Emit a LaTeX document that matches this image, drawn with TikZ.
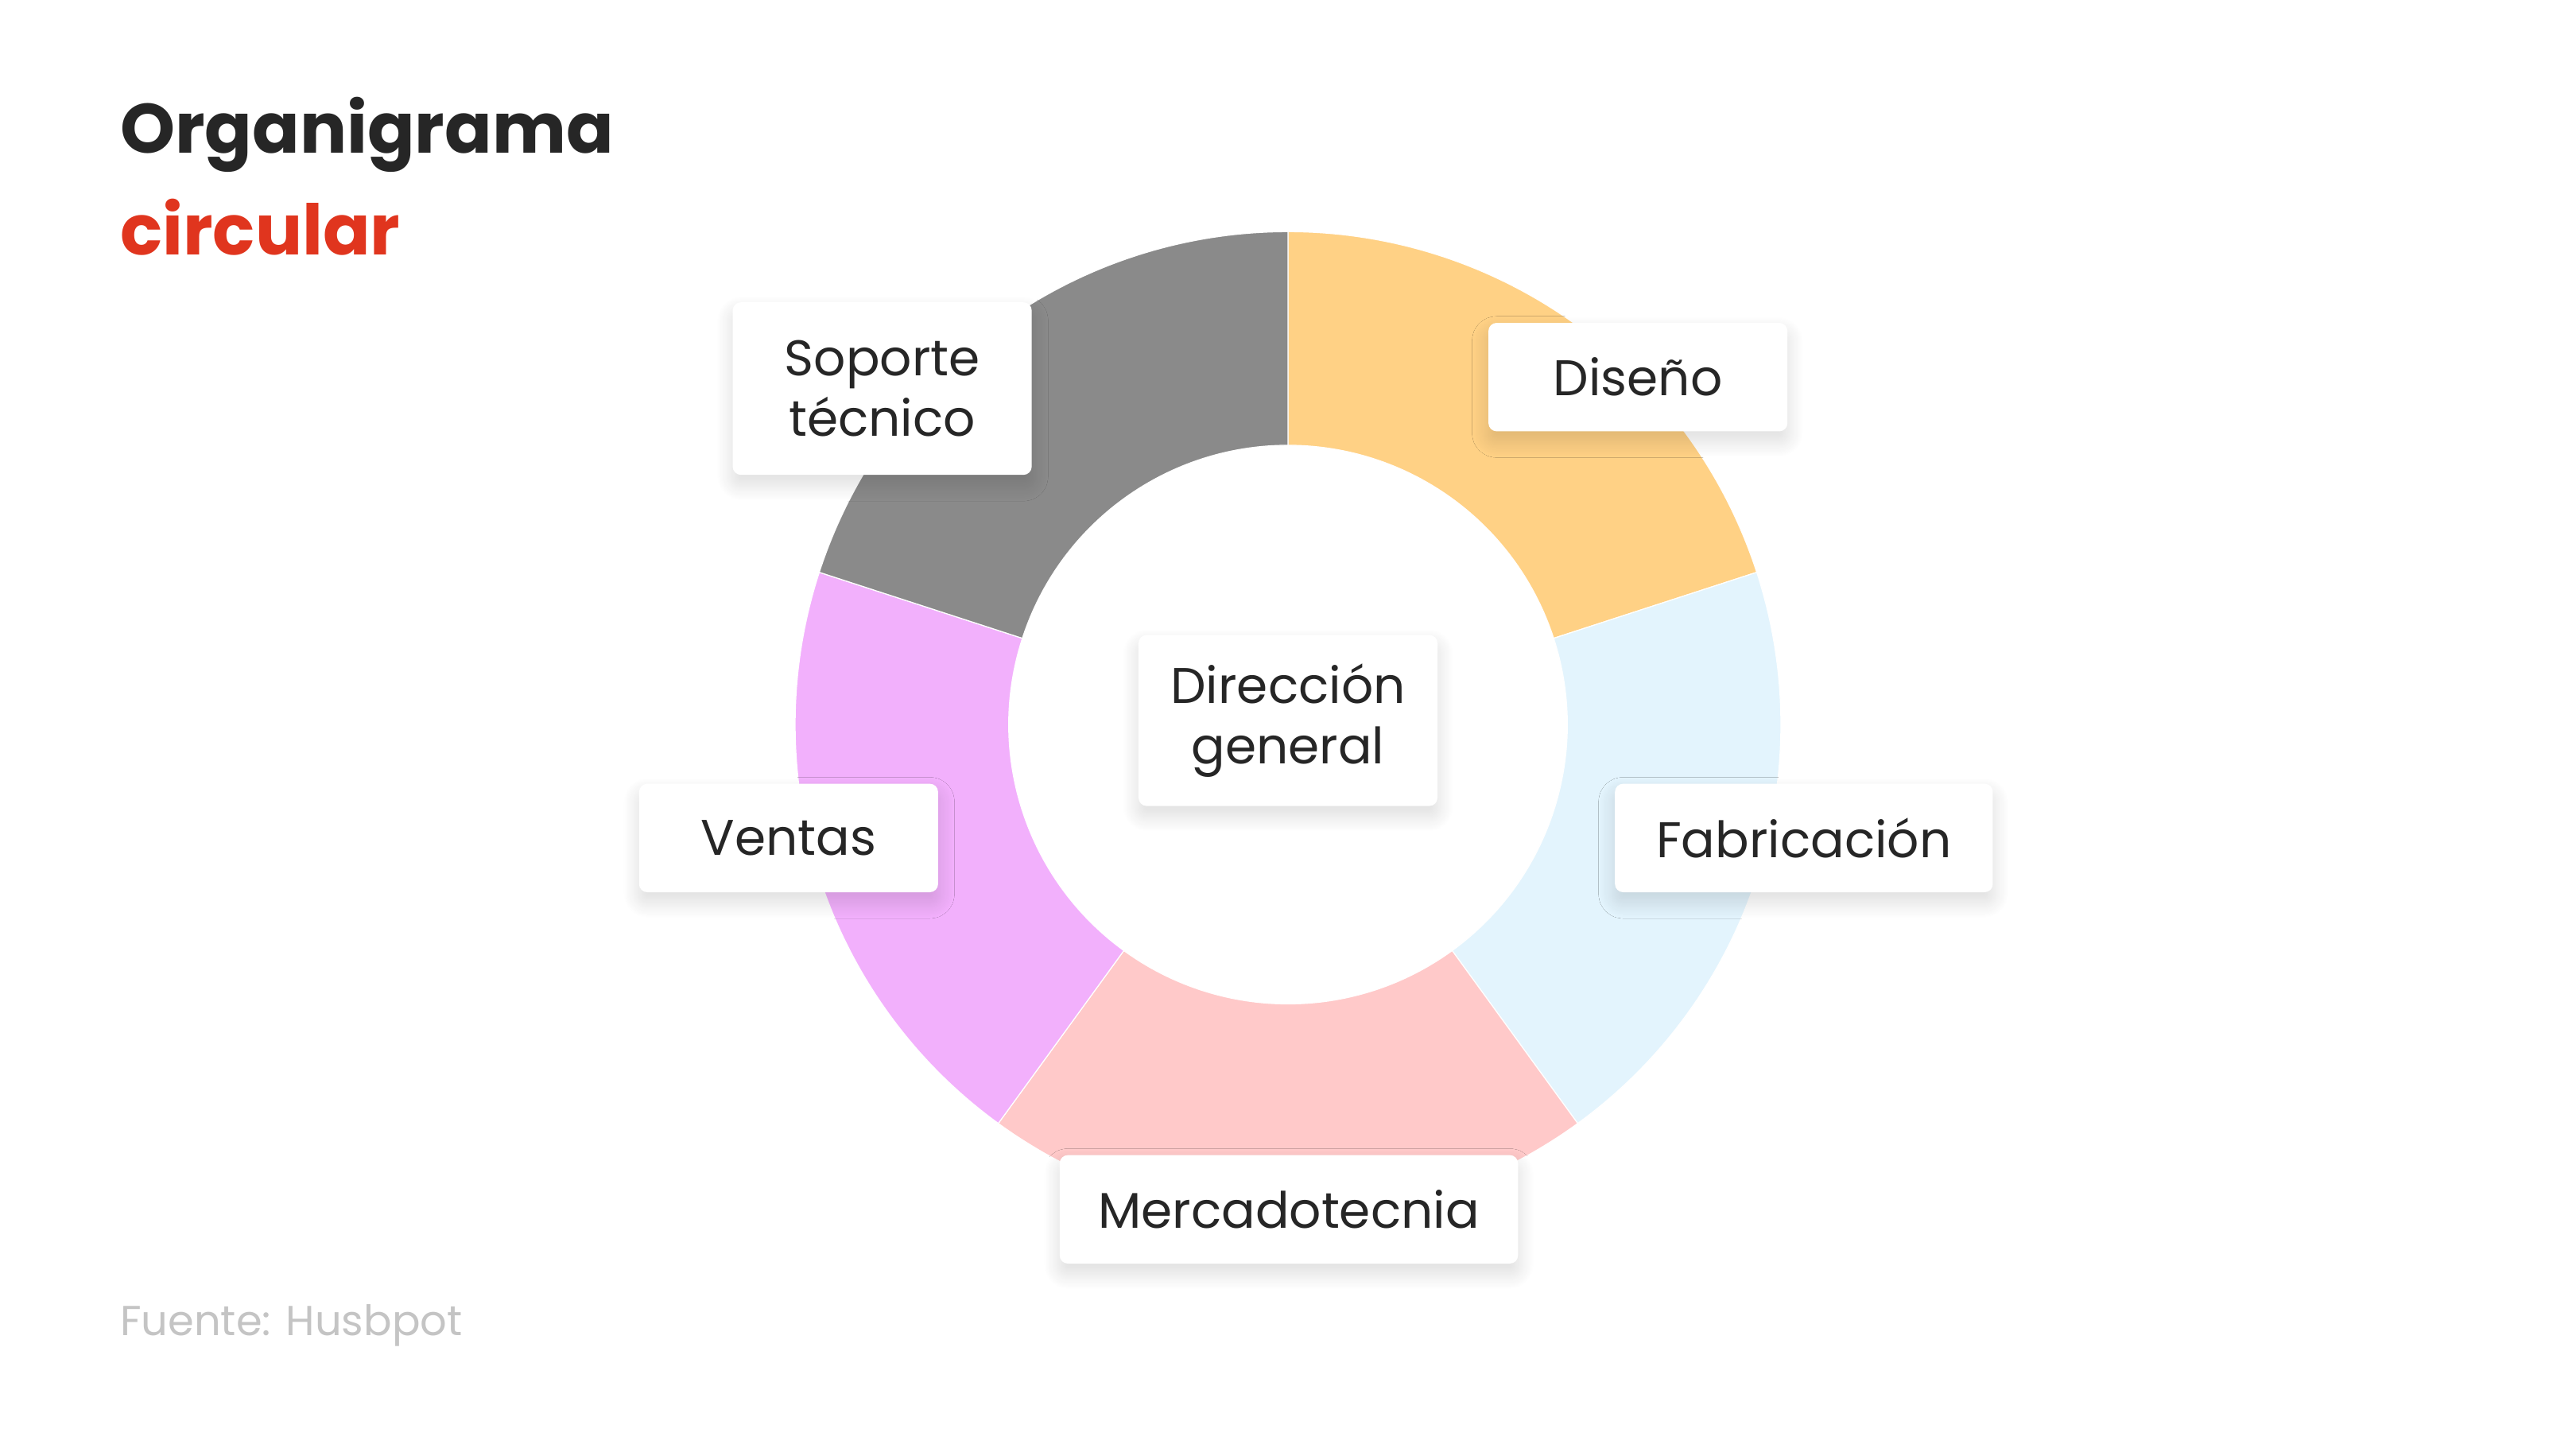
\documentclass[tikz,border=0pt]{standalone}
\usepackage{fontspec}
\setmainfont{Poppins}
\usetikzlibrary{shadows.blur}
\definecolor{inkgray}{HTML}{262626}
\definecolor{titlered}{HTML}{E0351E}
\definecolor{sourcegray}{HTML}{C4C4C4}
\definecolor{disenocol}{HTML}{FFD185}
\definecolor{fabricol}{HTML}{E3F4FD}
\definecolor{mercacol}{HTML}{FFC9C9}
\definecolor{ventascol}{HTML}{F2B0FC}
\definecolor{soportecol}{HTML}{8A8A8A}
\begin{document}
\begin{tikzpicture}[x=1pt, y=1pt,
  every node/.style={font=\fontsize{30.5}{37}\selectfont, text=inkgray},
  box/.style={fill=white, rounded corners=5pt, align=center, inner sep=0pt,
    minimum height=66pt, blur shadow={shadow xshift=0pt, shadow yshift=-6pt,
    shadow opacity=14, shadow blur radius=10pt, shadow blur steps=20}},
  ring/.style={draw=white, line width=0.6pt}]
\useasboundingbox (0,0) rectangle (1568,886);
% title
\node[anchor=base west, inner sep=0pt, font=\fontsize{42.5}{50}\selectfont\bfseries] (title) at (73,793) {Organigrama};
\node[anchor=base west, inner sep=0pt, font=\fontsize{42.5}{50}\selectfont\bfseries, text=titlered] (subtitle) at (73,731) {circular};
% donut
\begin{scope}[shift={(784,445)}]
\fill[disenocol, ring] (90:300) arc[start angle=90, end angle=18, radius=300] -- (18:170) arc[start angle=18, end angle=90, radius=170] -- cycle;
\fill[fabricol, ring] (18:300) arc[start angle=18, end angle=-54, radius=300] -- (-54:170) arc[start angle=-54, end angle=18, radius=170] -- cycle;
\fill[mercacol, ring] (-54:300) arc[start angle=-54, end angle=-126, radius=300] -- (-126:170) arc[start angle=-126, end angle=-54, radius=170] -- cycle;
\fill[ventascol, ring] (-126:300) arc[start angle=-126, end angle=-198, radius=300] -- (-198:170) arc[start angle=-198, end angle=-126, radius=170] -- cycle;
\fill[soportecol, ring] (162:300) arc[start angle=162, end angle=90, radius=300] -- (90:170) arc[start angle=90, end angle=162, radius=170] -- cycle;
\end{scope}
% boxes
\node[box, minimum width=182pt, minimum height=104pt] (direccion) at (784,447.5) {Dirección\\general};
\node[box, minimum width=182pt, minimum height=105pt] (soporte) at (537,649.5) {Soporte\\técnico};
\node[box, minimum width=182pt] (diseno) at (997,656.5) {Diseño};
\node[box, minimum width=230pt] (fabricacion) at (1098,376) {Fabricación};
\node[box, minimum width=279pt] (mercadotecnia) at (784.5,150) {Mercadotecnia};
\node[box, minimum width=182pt] (ventas) at (480,376) {Ventas};
% source
\node[anchor=base west, inner sep=0pt, font=\fontsize{25.5}{30}\selectfont, text=sourcegray] (fuente) at (73,73) {Fuente: Husbpot};
\end{tikzpicture}
\end{document}
